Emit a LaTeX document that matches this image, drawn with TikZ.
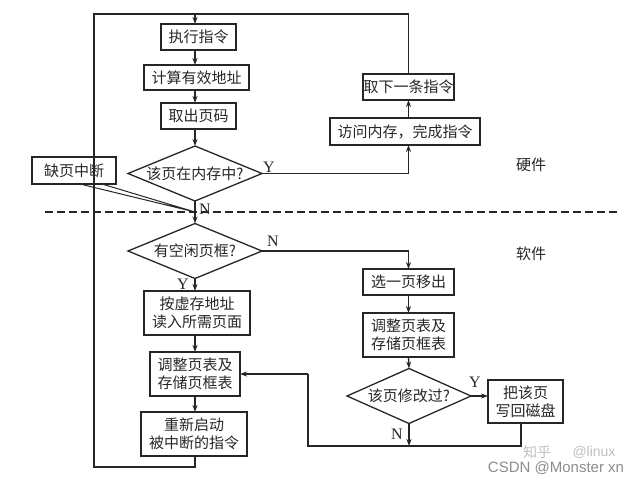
\documentclass[tikz,border=0pt]{standalone}
\usepackage{fontspec}
\setmainfont{Liberation Serif}
\newfontfamily\cjk{Noto Sans CJK SC}
\newfontfamily\wmfont{Liberation Sans}
\usetikzlibrary{arrows.meta,shapes.geometric,calc}
\tikzset{
  every node/.style={inner sep=0pt,outer sep=0pt,text=black!85},
  flowbox/.style={draw=black!85,line width=1.3pt,rectangle,align=center,font=\cjk\fontsize{15}{18}\selectfont},
  decision/.style={draw=black!85,line width=1.3pt,diamond,aspect=2.44,align=center,font=\cjk\fontsize{15}{18}\selectfont},
  conn/.style={draw=black!85,line width=1.3pt},
  arr/.style={conn,-{Stealth[length=7pt,width=5pt]}},
  yn/.style={font=\fontsize{16}{16}\selectfont},
  side/.style={font=\cjk\fontsize{15}{18}\selectfont},
  wm/.style={font=\wmfont\fontsize{15}{15}\selectfont,text=black!45},
  wmtop/.style={text=black!25}
}
\begin{document}
\begin{tikzpicture}[x=1pt,y=-1pt]
\useasboundingbox (0,0) rectangle (640,483);
% boxes
\node[flowbox,minimum width=75pt,minimum height=26pt] (exec) at (198.5,37) {执行指令};
\node[flowbox,minimum width=105pt,minimum height=25pt] (calc) at (196.5,77.5) {计算有效地址};
\node[flowbox,minimum width=75pt,minimum height=26pt] (page) at (198.5,116) {取出页码};
\node[decision,minimum width=134pt,minimum height=55pt] (inmem) at (195,173.5) {该页在内存中?};
\node[flowbox,minimum width=84pt,minimum height=27pt] (fault) at (74,170.5) {缺页中断};
\node[flowbox,minimum width=91pt,minimum height=26pt] (next) at (408.5,87) {取下一条指令};
\node[flowbox,minimum width=150pt,minimum height=27pt] (access) at (405,131.5) {访问内存，完成指令};
\node[decision,minimum width=134pt,minimum height=55pt] (free) at (195,251) {有空闲页框?};
\node[flowbox,minimum width=106pt,minimum height=44pt] (read) at (197,313) {按虚存地址\\读入所需页面};
\node[flowbox,minimum width=90pt,minimum height=44pt] (adjl) at (195,374) {调整页表及\\存储页框表};
\node[flowbox,minimum width=106pt,minimum height=44pt] (restart) at (194,434) {重新启动\\被中断的指令};
\node[flowbox,minimum width=91pt,minimum height=26pt] (select) at (408.5,282) {选一页移出};
\node[flowbox,minimum width=91pt,minimum height=44pt] (adjr) at (408.5,335) {调整页表及\\存储页框表};
\node[decision,minimum width=124pt,minimum height=55pt] (mod) at (409,396) {该页修改过?};
\node[flowbox,minimum width=75pt,minimum height=43pt] (write) at (525.5,401.5) {把该页\\写回磁盘};
% free coordinates
\coordinate (tl) at (94,14);
\coordinate (tr) at (408.5,14);
\coordinate (texec) at (195,14);
\coordinate (bl) at (94,467);
\coordinate (br) at (195,467);
\coordinate (merge) at (195,212);
\coordinate (yc) at (408.5,173.5);
\coordinate (nc) at (408.5,251);
\coordinate (jl) at (308,446);
\coordinate (jr) at (521,446);
\coordinate (jm) at (409,446);
\coordinate (ja) at (308,374);
\coordinate (dl) at (45,212);
\coordinate (dr) at (617,212);
\coordinate (ft1) at (80,184);
\coordinate (ft2) at (102,184);
% connectors
\draw[arr] (texec) -- (texec |- exec.north);
\draw[conn] (restart.south -| br) -- (br) -- (bl) -- (tl) -- (tr) -- (next.north);
\draw[arr] (exec.south -| texec) -- (calc.north -| texec);
\draw[arr] (calc.south -| texec) -- (page.north -| texec);
\draw[arr] (page.south -| texec) -- (inmem.north);
\draw[arr] (inmem.south) -- (free.north);
\draw[conn] (inmem.east) -- (yc);
\draw[arr] (yc) -- (access.south -| yc);
\draw[arr] (access.north -| yc) -- (next.south);
\draw[conn] (free.east) -- (nc);
\draw[arr] (nc) -- (select.north);
\draw[arr] (free.south) -- (read.north -| free);
\draw[arr] (read.south -| free) -- (adjl.north);
\draw[arr] (adjl.south) -- (restart.north -| adjl);
\draw[arr] (select.south) -- (adjr.north);
\draw[arr] (adjr.south) -- (mod.north);
\draw[arr] (mod.east) -- (write.west |- mod);
\draw[arr] (mod.south) -- (jm);
\draw[conn] (write.south -| jr) -- (jr) -- (jl) -- (ja);
\draw[arr] (ja) -- (adjl.east |- ja);
\draw[draw=black!85,line width=1pt] (ft1) -- (merge) -- (ft2);
\draw[draw=black!85,line width=1.2pt,dash pattern=on 8pt off 4pt] (dl) -- (dr);
% labels
\node[yn] at (269,167) {Y};
\node[yn] at (205,209) {N};
\node[yn] at (273,241) {N};
\node[yn] at (183,284) {Y};
\node[yn] at (475,382) {Y};
\node[yn] at (397,434) {N};
\node[side] at (531,165) {硬件};
\node[side] at (531,254) {软件};
\node[wmtop,font=\cjk\fontsize{14}{14}\selectfont] at (537,452) {知乎};
\node[wmtop,font=\wmfont\fontsize{14}{14}\selectfont] at (594,452) {@linux};
\node[wm] at (556,468) {CSDN @Monster xn};
\end{tikzpicture}
\end{document}
